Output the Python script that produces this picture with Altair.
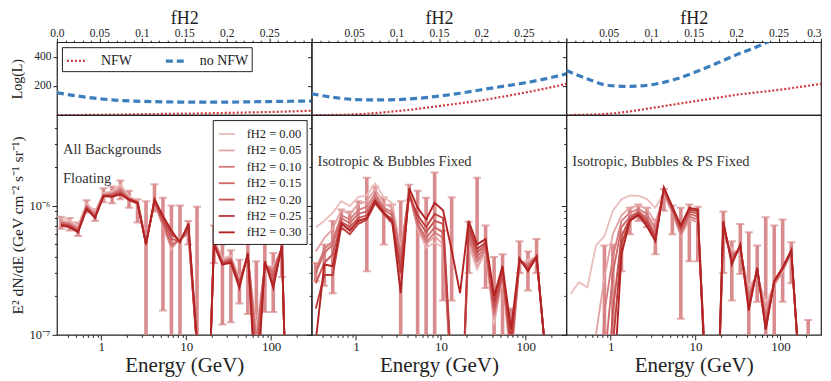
import altair as alt
import pandas as pd

FONT = "Liberation Serif"
INK = "#222222"
RED = "#d0393b"
BLUE = "#3b7dbd"
ERR = "#d98b8d"

# ---------------- top row: Log(L) vs f_H2 ----------------
f_h2 = [0.0, 0.025, 0.05, 0.075, 0.1, 0.125, 0.15, 0.175, 0.2, 0.225, 0.25, 0.275, 0.3]
logL_nfw_all = [0, 0.5, 2, 4, 6, 8, 10, 12, 15, 18, 21, 25, 30]
logL_nonfw_all = [153, 130, 112, 100, 94, 91, 89, 89, 89, 91, 93, 95, 96]
logL_nfw_iso = [0, 1, 5, 14, 27, 43, 62, 81, 101, 126, 153, 182, 214]
logL_nonfw_iso = [146, 122, 107, 104, 106, 115, 130, 150, 174, 197, 220, 248, 283]
logL_nfw_ps = [0, 3, 9, 26, 48, 71, 94, 116, 139, 156, 173, 193, 214]
logL_nonfw_ps = [306, 248, 203, 197, 208, 240, 290, 350, 413, 470, 535, 600, 670]
models = ["NFW", "no NFW"]

top_ticks = [0.0, 0.01, 0.02, 0.03, 0.04, 0.05, 0.06, 0.07, 0.08, 0.09, 0.1,
             0.11, 0.12, 0.13, 0.14, 0.15, 0.16, 0.17, 0.18, 0.19, 0.2,
             0.21, 0.22, 0.23, 0.24, 0.25, 0.26, 0.27, 0.28, 0.29, 0.3]
labels_left = [0.0, 0.05, 0.1, 0.15, 0.2, 0.25]
labels_mid = [0.05, 0.1, 0.15, 0.2, 0.25]
labels_right = [0.05, 0.1, 0.15, 0.2, 0.25, 0.3]

# ---------------- bottom row: spectra (units of 1e-7 GeV cm^-2 s^-1 sr^-1) ----------------
energy = [0.336, 0.423, 0.532, 0.670, 0.844, 1.06, 1.34, 1.68, 2.12, 2.67, 3.36, 4.23, 5.32,
          6.70, 8.44, 10.6, 13.4, 16.8, 21.2, 26.7, 33.6, 42.3, 53.2, 67.0, 84.4, 106, 134, 168, 212]
series_labels = ["fH2 = 0.00", "fH2 = 0.05", "fH2 = 0.10", "fH2 = 0.15",
                 "fH2 = 0.20", "fH2 = 0.25", "fH2 = 0.30"]
series_colors = ["#ebbcbc", "#e3a2a3", "#d67b7d", "#cf6a6a", "#c65555", "#bd3d3d", "#b22222"]
series_widths = [1.8, 1.9, 2.0, 2.1, 2.2, 2.3, 2.5]

L000 = [7.9, 7.7, 7.0, 10.4, 9.0, 12.5, 12.9, 14.6, 11.7, 10.9, 5.3, 10.4, 6.9, 4.6, 5.6, 5.9, 0.8, 0.05, 5.5, 3.9, 4.1, 2.7, 4.0, 1.1, 3.4, 3.4, 4.6, 0.02, 0.01]
L005 = [7.6, 7.4, 6.8, 10.1, 8.7, 12.3, 12.6, 14.0, 11.5, 10.8, 5.2, 10.5, 7.0, 4.7, 5.5, 6.0, 0.8, 0.05, 5.4, 3.8, 4.0, 2.6, 4.1, 1.0, 3.4, 3.3, 4.7, 0.02, 0.01]
L010 = [7.4, 7.2, 6.6, 9.9, 8.5, 12.1, 12.3, 13.4, 11.3, 10.7, 5.2, 10.6, 7.1, 4.8, 5.5, 6.2, 0.8, 0.05, 5.3, 3.7, 3.9, 2.6, 4.1, 0.9, 3.4, 3.2, 4.7, 0.02, 0.01]
L015 = [7.3, 7.1, 6.5, 9.8, 8.4, 12.0, 12.2, 13.0, 11.2, 10.6, 5.1, 10.7, 7.3, 5.0, 5.4, 6.4, 0.8, 0.05, 5.2, 3.6, 3.8, 2.5, 4.1, 0.8, 3.5, 3.0, 4.7, 0.02, 0.01]
L020 = [7.2, 7.0, 6.4, 9.6, 8.2, 11.8, 12.0, 12.6, 11.0, 10.4, 5.1, 10.8, 7.6, 5.5, 5.3, 6.7, 0.8, 0.05, 5.1, 3.6, 3.8, 2.5, 4.2, 0.6, 3.5, 2.8, 4.8, 0.02, 0.01]
L025 = [7.1, 6.9, 6.3, 9.5, 8.1, 11.8, 11.8, 12.3, 11.0, 10.4, 5.0, 11.0, 8.0, 6.0, 5.3, 7.0, 0.8, 0.05, 5.0, 3.5, 3.7, 2.4, 4.2, 0.4, 3.6, 2.5, 4.8, 0.02, 0.01]
L030 = [7.0, 6.8, 6.2, 9.4, 8.0, 11.9, 11.7, 12.2, 11.2, 10.5, 5.0, 11.2, 8.3, 6.4, 5.2, 7.2, 0.9, 0.05, 5.0, 3.5, 3.6, 2.3, 4.3, 0.3, 3.7, 2.3, 4.9, 0.02, 0.01]
L_lo = [6.6, 6.4, 5.8, 8.8, 7.6, 10.6, 10.4, 11.2, 9.6, 7.4, 0.1, 9.0, 1.54, 0.1, 0.1, 5.0, 0.1, 0.01, 3.6, 1.2, 1.25, 1.75, 1.45, 0.1, 1.5, 1.5, 2.8, 0.01, 0.01]
L_hi = [8.2, 8.0, 7.4, 11.0, 9.4, 13.6, 14.0, 15.6, 13.0, 11.2, 10.8, 14.6, 11.5, 10.0, 10.0, 7.6, 9.8, 0.3, 7.0, 5.0, 4.5, 3.8, 5.3, 3.7, 5.3, 4.3, 5.5, 0.3, 0.3]

M000 = [6.8, 7.6, 8.8, 10.8, 9.9, 11.6, 12.0, 14.8, 11.6, 10.4, 4.6, 12.2, 6.6, 4.7, 5.2, 4.7, 0.4, 0.1, 5.0, 3.2, 4.4, 1.2, 2.8, 0.6, 3.6, 3.8, 4.0, 0.8, 0.01]
M005 = [4.4, 5.6, 6.6, 9.2, 8.6, 10.2, 10.8, 13.4, 10.4, 9.6, 4.4, 12.5, 6.8, 5.0, 5.8, 5.0, 0.4, 0.1, 5.2, 3.4, 4.5, 1.3, 2.8, 0.6, 3.6, 3.6, 4.0, 0.8, 0.01]
M010 = [3.2, 4.6, 5.3, 8.4, 7.8, 9.2, 9.8, 12.4, 9.6, 8.9, 4.2, 12.8, 6.9, 5.2, 6.2, 5.6, 0.4, 0.1, 5.6, 3.7, 4.6, 1.4, 2.9, 0.7, 3.7, 3.5, 4.0, 0.8, 0.01]
M015 = [3.0, 4.3, 5.0, 8.0, 7.3, 8.6, 9.0, 11.6, 9.3, 8.4, 3.8, 12.6, 7.2, 5.6, 6.8, 6.2, 0.4, 0.1, 6.0, 4.0, 4.8, 1.5, 2.9, 0.7, 3.7, 3.4, 4.0, 0.8, 0.01]
M020 = [2.5, 3.6, 4.2, 7.5, 6.8, 8.0, 8.4, 11.0, 8.8, 7.8, 3.4, 12.4, 7.8, 6.2, 7.6, 7.2, 0.4, 0.1, 6.5, 4.3, 5.0, 1.6, 3.0, 0.8, 3.8, 3.3, 4.1, 0.8, 0.01]
M025 = [1.6, 2.9, 2.9, 6.8, 6.0, 7.2, 7.8, 10.4, 8.6, 7.3, 3.0, 12.0, 8.4, 6.8, 8.6, 8.0, 0.5, 0.1, 7.0, 4.6, 5.2, 1.8, 3.2, 0.9, 3.8, 3.2, 4.0, 0.8, 0.01]
M030 = [0.9, 3.5, 3.4, 7.3, 6.4, 7.6, 8.0, 10.8, 8.8, 7.6, 2.1, 13.6, 9.6, 7.8, 10.5, 9.2, 4.5, 2.1, 7.6, 5.0, 5.5, 2.0, 3.4, 1.1, 3.9, 3.1, 4.0, 0.8, 0.01]
M_lo = [2.6, 2.4, 2.1, 6.5, 6.6, 7.4, 3.1, 10.5, 5.0, 7.6, 0.1, 11.0, 0.1, 0.1, 0.1, 1.84, 1.84, 0.01, 3.0, 3.74, 2.3, 0.1, 0.1, 0.1, 3.0, 2.2, 3.0, 0.01, 0.01]
M_hi = [3.6, 5.0, 7.6, 9.3, 9.0, 10.8, 16.4, 14.0, 11.6, 10.2, 10.8, 14.5, 13.0, 11.5, 18.0, 6.4, 11.6, 0.5, 7.5, 16.4, 7.0, 4.0, 4.2, 1.6, 5.3, 4.4, 5.5, 0.5, 0.3]

R000 = [2.07, 2.55, 2.33, 4.9, 5.8, 9.1, 11.2, 11.9, 11.9, 11.2, 9.6, 12.5, 9.0, 6.2, 8.0, 7.5, 0.4, 0.05, 5.6, 4.6, 4.2, 2.4, 2.8, 1.8, 2.4, 3.1, 4.3, 0.5, 0.05]
R005 = [0.01, 0.01, 0.2, 1.0, 2.8, 6.0, 8.4, 9.6, 10.0, 9.4, 7.4, 12.2, 8.8, 5.8, 7.8, 7.4, 0.4, 0.05, 5.8, 4.4, 4.3, 2.2, 2.9, 1.6, 2.4, 3.1, 4.3, 0.5, 0.05]
R010 = [0.01, 0.01, 0.05, 0.1, 1.5, 4.0, 7.6, 8.8, 9.4, 8.6, 6.6, 12.6, 9.0, 6.0, 8.2, 7.8, 0.4, 0.05, 6.2, 4.2, 4.5, 2.0, 3.0, 1.4, 2.5, 3.2, 4.3, 0.5, 0.05]
R015 = [0.01, 0.01, 0.01, 0.05, 0.6, 3.0, 6.8, 8.2, 9.0, 8.0, 6.0, 13.0, 9.2, 6.3, 8.6, 8.2, 0.4, 0.05, 6.6, 4.0, 4.7, 1.8, 3.1, 1.3, 2.5, 3.2, 4.4, 0.5, 0.05]
R020 = [0.01, 0.01, 0.01, 0.01, 0.2, 1.5, 5.8, 7.9, 8.8, 7.6, 5.7, 13.3, 9.4, 6.6, 9.0, 8.6, 0.4, 0.05, 7.0, 3.8, 4.8, 1.7, 3.2, 1.2, 2.6, 3.3, 4.4, 0.5, 0.05]
R025 = [0.01, 0.01, 0.01, 0.01, 0.1, 0.8, 5.0, 7.7, 8.6, 7.3, 5.5, 13.6, 9.6, 6.8, 9.3, 9.0, 0.3, 0.05, 7.3, 3.6, 4.9, 1.6, 3.3, 1.1, 2.6, 3.3, 4.5, 0.5, 0.05]
R030 = [0.01, 0.01, 0.01, 0.01, 0.05, 0.3, 4.2, 7.6, 8.4, 6.9, 5.3, 13.8, 9.8, 7.0, 9.6, 9.3, 0.3, 0.05, 7.6, 3.5, 5.0, 1.54, 3.3, 1.1, 2.6, 3.3, 4.5, 0.5, 0.05]
R_lo = [0.01, 0.01, 0.01, 0.01, 0.1, 0.1, 3.1, 6.0, 7.6, 6.8, 4.2, 9.1, 6.0, 1.33, 3.7, 3.7, 0.01, 0.01, 3.0, 1.84, 2.95, 0.1, 1.8, 0.1, 0.1, 1.8, 2.5, 0.01, 0.1]
R_hi = [0.05, 0.05, 0.05, 0.3, 4.9, 5.0, 6.2, 9.6, 10.2, 9.6, 7.8, 13.4, 10.0, 9.6, 10.2, 9.8, 0.5, 0.3, 9.0, 5.3, 7.2, 6.2, 4.9, 8.1, 7.0, 7.8, 5.2, 0.3, 1.3]

e_ticks = [0.4, 0.5, 0.6, 0.7, 0.8, 0.9, 1, 2, 3, 4, 5, 6, 7, 8, 9, 10,
           20, 30, 40, 50, 60, 70, 80, 90, 100, 200]
flux_ticks = [1, 2, 3, 4, 5, 6, 7, 8, 9, 10, 20, 30, 40]

W = 255
HT = 73
HB = 220


def near_any(vals):
    return " || ".join("abs(datum.value - %s) < 1e-6" % v for v in vals)


def top_panel(nfw, nonfw, labeled, first, flush=False):
    n = len(f_h2)
    df = pd.DataFrame({"f": f_h2 + f_h2, "logL": nfw + nonfw,
                       "model": [models[0]] * n + [models[1]] * n})
    lab_expr = "(%s) ? (datum.value == 0 ? '0.0' : format(datum.value, '~g')) : ''" % near_any(labeled)
    xaxis = alt.Axis(orient="top", values=top_ticks, labelExpr=lab_expr, title="fH2",
                     titleFontSize=18, titlePadding=0, labelFontSize=11.5, labelPadding=0,
                     tickSize={"condition": {"test": near_any(labels_right + [0.0]), "value": 4}, "value": 2},
                     labelFlush=flush, labelOverlap=False)
    if first:
        yaxis = alt.Axis(values=[200, 400], title="Log(L)", titleFontSize=14, labelFontSize=11.5,
                         tickSize=4, labelPadding=2, minExtent=27, maxExtent=27, titlePadding=5)
        leg = alt.Legend(orient="top-left", direction="horizontal", title=None, columns=2,
                         fillColor="white", strokeColor=INK, padding=3, offset=5,
                         symbolType="stroke", symbolSize=324, symbolStrokeWidth=2.6,
                         labelFontSize=14, labelFont=FONT, labelOffset=14, columnPadding=26,
                         labelColor=INK)
    else:
        yaxis = alt.Axis(values=[200, 400], title=None, labels=False, tickSize=4)
        leg = None
    sc = alt.Scale(domain=models, range=[RED, BLUE])
    dash = alt.Scale(domain=models, range=[[2, 2], [7, 4]])
    width = alt.Scale(domain=models, range=[2.2, 3.2])
    return alt.Chart(df).mark_line(clip=True, interpolate="monotone").encode(
        x=alt.X("f:Q", scale=alt.Scale(domain=[0, 0.3], nice=False, zero=False), axis=xaxis),
        y=alt.Y("logL:Q", scale=alt.Scale(domain=[0, 500], nice=False), axis=yaxis),
        color=alt.Color("model:N", scale=sc, legend=leg),
        strokeDash=alt.StrokeDash("model:N", scale=dash, legend=leg),
        strokeWidth=alt.StrokeWidth("model:N", scale=width, legend=None),
    ).properties(width=W, height=HT)


def spectrum_panel(series, lo, hi, texts, first):
    rows = []
    for lab, vals in zip(series_labels, series):
        for e, v in zip(energy, vals):
            rows.append({"E": e, "flux": v, "series": lab})
    df = pd.DataFrame(rows)
    err = pd.DataFrame({"E": energy, "lo": lo, "hi": hi})

    xs = alt.Scale(type="log", domain=[0.3, 300], nice=False)
    ys = alt.Scale(type="log", domain=[1, 50], nice=False)
    xaxis = alt.Axis(values=e_ticks,
                     labelExpr="(datum.value == 1 || datum.value == 10 || datum.value == 100) ? datum.value + '' : ''",
                     title="Energy (GeV)", titleFontSize=21, titlePadding=1, labelFontSize=13,
                     labelPadding=1, labelOverlap=False,
                     tickSize={"condition": {"test": "datum.value == 1 || datum.value == 10 || datum.value == 100", "value": 5}, "value": 2.5})
    if first:
        yaxis = alt.Axis(values=flux_ticks,
                         labelExpr="datum.value == 1 ? '10\u207b\u2077' : (datum.value == 10 ? '10\u207b\u2076' : '')",
                         title="E\u00b2 dN/dE (GeV cm\u207b\u00b2 s\u207b\u00b9 sr\u207b\u00b9)",
                         titleFontSize=15.5, labelFontSize=12.5, labelPadding=2, labelOverlap=False,
                         minExtent=27, maxExtent=27, titlePadding=4,
                         tickSize={"condition": {"test": "datum.value == 1 || datum.value == 10", "value": 5}, "value": 2.5})
        leg = alt.Legend(orient="top-right", title=None, fillColor="white", strokeColor=INK,
                         padding=5, offset=5, symbolType="stroke", symbolSize=256,
                         symbolStrokeWidth=2.4, labelFontSize=12.5, labelFont=FONT, labelOffset=11,
                         rowPadding=0.4, labelColor=INK)
    else:
        yaxis = alt.Axis(values=flux_ticks, title=None, labels=False,
                         tickSize={"condition": {"test": "datum.value == 1 || datum.value == 10", "value": 5}, "value": 2.5})
        leg = None

    X = alt.X("E:Q", scale=xs, axis=xaxis)
    bars = alt.Chart(err).mark_rule(clip=True, strokeWidth=3.6, color=ERR).encode(
        x=X, y=alt.Y("lo:Q", scale=ys, axis=yaxis), y2="hi:Q")
    cap_lo = alt.Chart(err).mark_tick(clip=True, orient="horizontal", size=8, thickness=2, color=ERR).encode(
        x=X, y=alt.Y("lo:Q", scale=ys, axis=yaxis))
    cap_hi = alt.Chart(err).mark_tick(clip=True, orient="horizontal", size=8, thickness=2, color=ERR).encode(
        x=X, y=alt.Y("hi:Q", scale=ys, axis=yaxis))
    lines = alt.Chart(df).mark_line(clip=True).encode(
        x=X, y=alt.Y("flux:Q", scale=ys, axis=yaxis),
        color=alt.Color("series:N", scale=alt.Scale(domain=series_labels, range=series_colors),
                        legend=leg, sort=series_labels),
        strokeWidth=alt.StrokeWidth("series:N", scale=alt.Scale(domain=series_labels, range=series_widths),
                                    legend=None))
    layers = [bars, cap_lo, cap_hi, lines]
    for txt, ypix in texts:
        layers.append(alt.Chart(pd.DataFrame({"t": [txt]})).mark_text(
            align="left", baseline="middle", font=FONT, fontSize=14.5, color="#333333").encode(
            text="t:N", x=alt.value(6), y=alt.value(ypix)))
    return alt.layer(*layers).properties(width=W, height=HB)


top_l = top_panel(logL_nfw_all, logL_nonfw_all, labels_left, True)
top_m = top_panel(logL_nfw_iso, logL_nonfw_iso, labels_mid, False)
top_r = top_panel(logL_nfw_ps, logL_nonfw_ps, labels_right, False, flush=True)

bot_l = spectrum_panel([L000, L005, L010, L015, L020, L025, L030], L_lo, L_hi,
                       [("All Backgrounds", 35), ("Floating", 64)], True)
bot_m = spectrum_panel([M000, M005, M010, M015, M020, M025, M030], M_lo, M_hi,
                       [("Isotropic & Bubbles Fixed", 47)], False)
bot_r = spectrum_panel([R000, R005, R010, R015, R020, R025, R030], R_lo, R_hi,
                       [("Isotropic, Bubbles & PS Fixed", 47)], False)

chart = alt.concat(top_l, top_m, top_r, bot_l, bot_m, bot_r, columns=3, spacing=0,
                   bounds="flush", align="each").resolve_scale(
    x="independent", y="independent", color="independent",
    strokeDash="independent", strokeWidth="independent"
).properties(
    padding={"left": 2, "top": 0, "right": 0, "bottom": 0}
).configure_view(
    stroke=INK, strokeWidth=1.2
).configure_axis(
    labelFont=FONT, titleFont=FONT, labelColor=INK, titleColor=INK, tickColor=INK,
    domain=False, grid=False, titleFontWeight="normal"
).configure_legend(
    labelFont=FONT
)

chart.save("out.html", embed_options={"renderer": "svg", "actions": False})
